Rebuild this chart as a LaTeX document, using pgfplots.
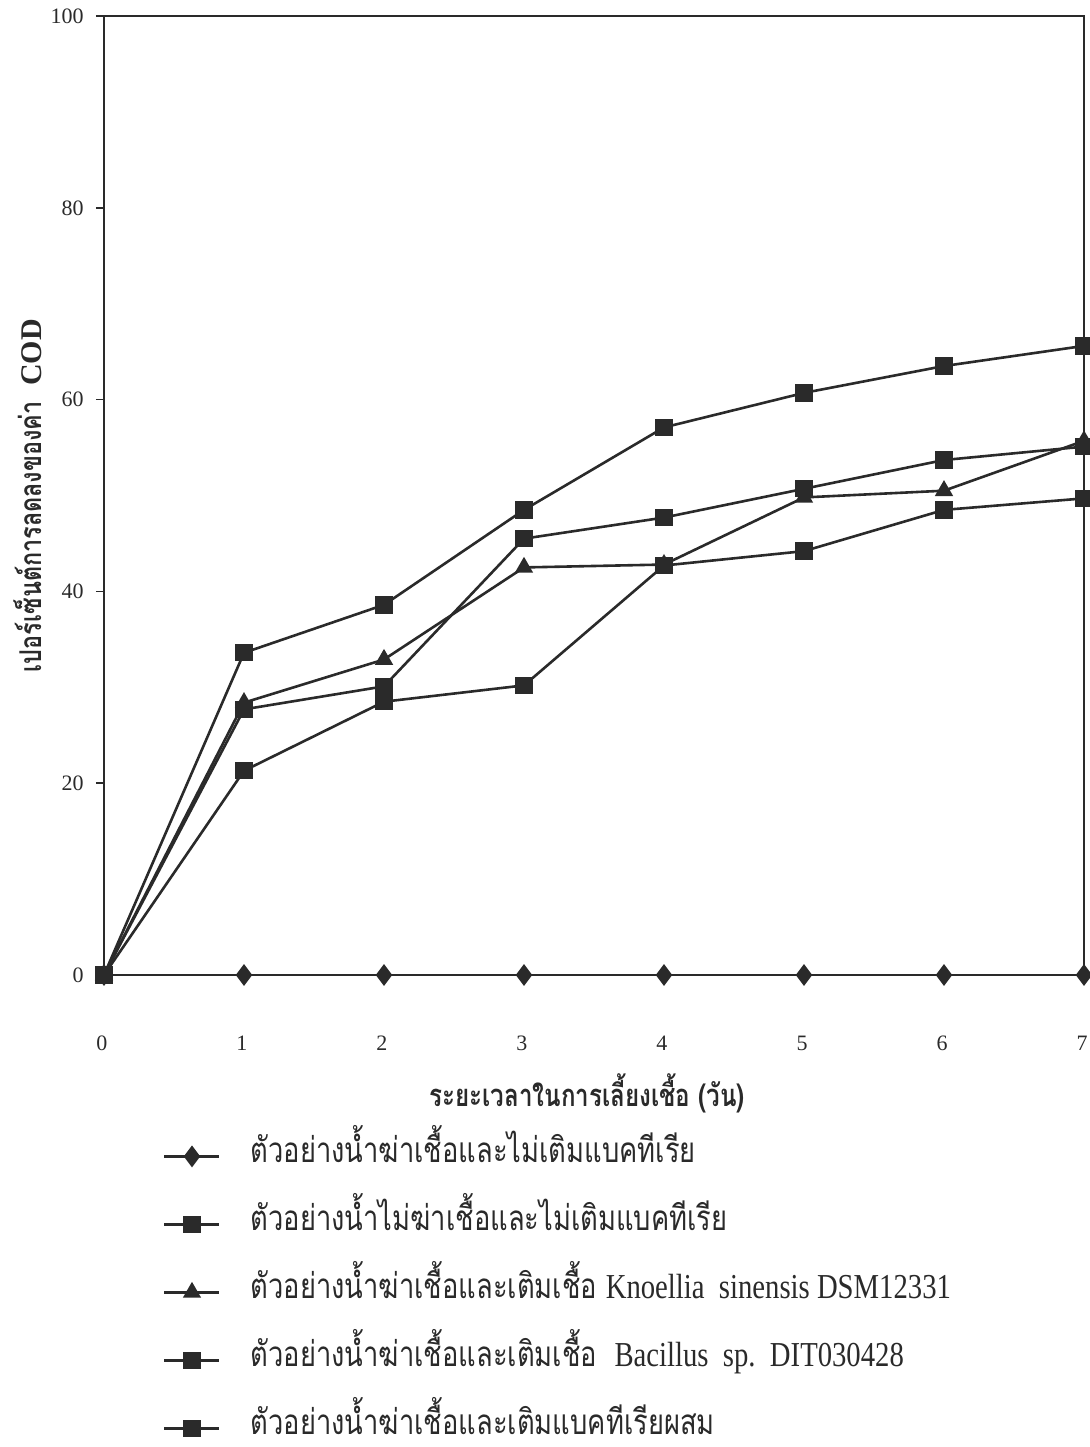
\documentclass[border=0pt]{standalone}
\usepackage{fontspec}
\usepackage{pgfplots}
\pgfplotsset{compat=1.18}
\setmainfont{Liberation Serif}
\newfontfamily\thaifont[Script=Thai, FakeStretch=0.78]{Loma}
\newfontfamily\latcond[FakeStretch=0.82]{Liberation Serif}
\definecolor{ink}{HTML}{2A2A2A}

\begin{document}
\begin{tikzpicture}[x=1pt,y=1pt]
\useasboundingbox (-52,-236) rectangle (493,487.5);
\begin{axis}[
  at={(0pt,0pt)}, anchor=south west,
  scale only axis, width=490pt, height=479.5pt,
  xmin=0, xmax=7, ymin=0, ymax=100,
  clip=false,
  axis line style={ink, line width=0.9pt},
  xtick={0,1,...,7}, ytick={0,20,...,100},
  tick align=outside,
  major tick length=4pt,
  xtick style={draw=none},
  ytick style={ink, line width=0.8pt},
  ytick pos=left,
  /pgf/number format/assume math mode=true,
  ticklabel style={font=\fontsize{11}{13}\selectfont, text=ink},
  xticklabel style={anchor=center, inner sep=0pt, yshift=-30pt, xshift=-1pt},
  yticklabel style={anchor=east, inner sep=0pt, xshift=-6pt},
  xlabel={\thaifont\bfseries ระยะเวลาในการเลี้ยงเชื้อ (วัน)},
  xlabel style={at={(axis description cs:0.493,0)}, anchor=center, yshift=-59pt,
     font=\fontsize{15.5}{17}\selectfont, text=ink},
  ylabel={\thaifont\bfseries เปอร์เซ็นต์การลดลงของค่า \ {\rmfamily COD}},
  ylabel style={at={(axis description cs:-0.0775,0.5)}, anchor=center, rotate=0,
     font=\fontsize{15}{17}\selectfont, text=ink},
  legend style={at={(axis description cs:0.06,-0.331)}, anchor=west, draw=none,
     inner sep=0pt, fill=none, row sep=18pt, column sep=15pt,
     font=\fontsize{17.5}{20}\selectfont, text=ink,
     nodes={inner sep=0pt, text height=11pt, text depth=5pt}},
  legend cell align=left,
  legend image code/.code={\draw[mark repeat=2,mark phase=2,#1] plot coordinates {(0pt,0pt) (13.75pt,0pt) (27.5pt,0pt)};},
]
\addplot[ink, line width=1.3pt, mark=diamond*, mark size=4.4pt, mark options={ink, fill=ink, solid}] coordinates {
 (0,0) (1,0) (2,0) (3,0) (4,0) (5,0) (6,0) (7,0)};
\addlegendentry{\thaifont ตัวอย่างน้ำฆ่าเชื้อและไม่เติมแบคทีเรีย}
\addplot[ink, line width=1.3pt, mark=square*, mark size=3.7pt, mark options={ink, fill=ink, solid}] coordinates {
 (0,0) (1,21.3) (2,28.5) (3,30.2) (4,42.7) (5,44.2) (6,48.5) (7,49.7)};
\addlegendentry{\thaifont ตัวอย่างน้ำไม่ฆ่าเชื้อและไม่เติมแบคทีเรีย}
\addplot[ink, line width=1.3pt, mark=triangle*, mark size=4pt, mark options={ink, fill=ink, solid}] coordinates {
 (0,0) (1,28.4) (2,32.9) (3,42.5) (4,42.8) (5,49.8) (6,50.5) (7,55.7)};
\addlegendentry{{\thaifont ตัวอย่างน้ำฆ่าเชื้อและเติมเชื้อ} {\latcond Knoellia\ \ sinensis DSM12331}}
\addplot[ink, line width=1.3pt, mark=square*, mark size=3.7pt, mark options={ink, fill=ink, solid}] coordinates {
 (0,0) (1,27.7) (2,30.1) (3,45.5) (4,47.7) (5,50.7) (6,53.7) (7,55.1)};
\addlegendentry{{\thaifont ตัวอย่างน้ำฆ่าเชื้อและเติมเชื้อ}\ \ {\latcond Bacillus\ \ sp.\ \ DIT030428}}
\addplot[ink, line width=1.3pt, mark=square*, mark size=3.7pt, mark options={ink, fill=ink, solid}] coordinates {
 (0,0) (1,33.6) (2,38.6) (3,48.5) (4,57.1) (5,60.7) (6,63.5) (7,65.6)};
\addlegendentry{\thaifont ตัวอย่างน้ำฆ่าเชื้อและเติมแบคทีเรียผสม}
\end{axis}
\end{tikzpicture}
\end{document}
